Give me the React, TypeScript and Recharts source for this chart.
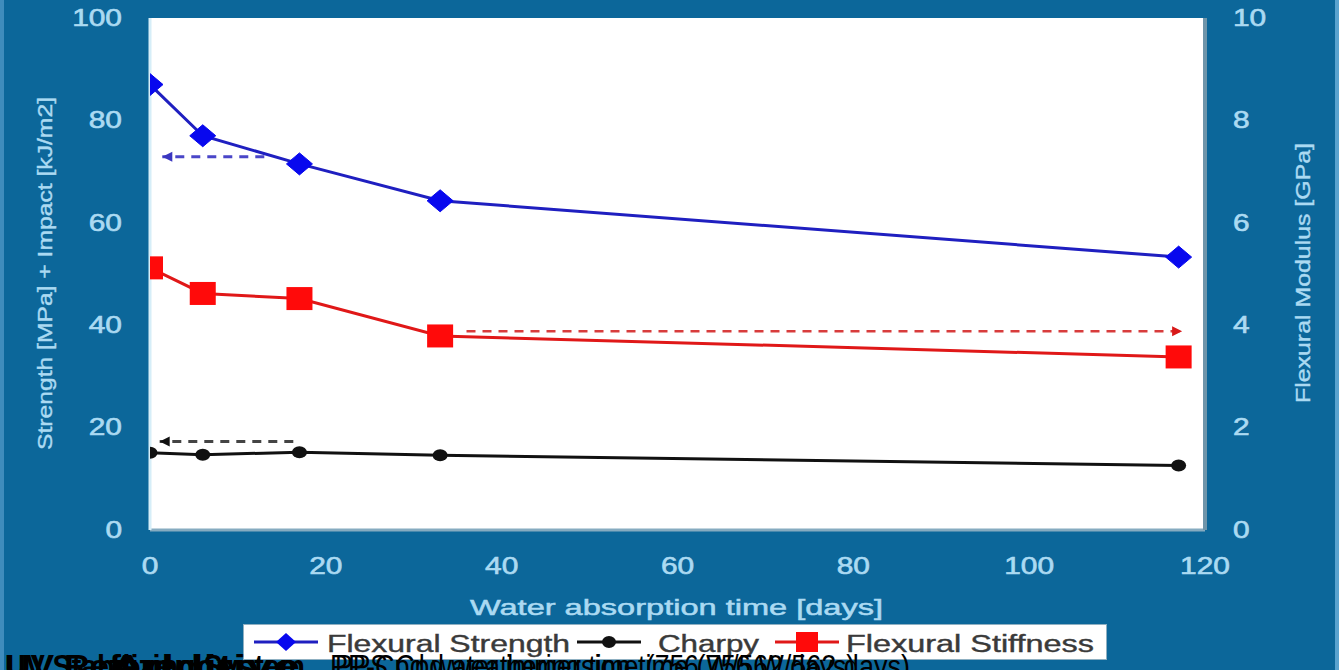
import React from "react";
import { LineChart, Line, XAxis, YAxis, CartesianGrid, Label } from "recharts";

// values
const days = [0, 6, 17, 33, 117];
const flexuralStrength = [87, 77, 71.5, 64.3, 53.3];
const charpy = [15.1, 14.7, 15.2, 14.6, 12.6];
const flexuralStiffness = [5.12, 4.62, 4.52, 3.79, 3.38];

// dashed reference arrows (tail -> head)
const strengthArrowDays = [13, 1.4];
const strengthArrowValue = [72.9, 72.9];
const charpyArrowDays = [16.3, 1.1];
const charpyArrowValue = [17.3, 17.3];
const stiffnessArrowDays = [36, 117.4];
const stiffnessArrowValue = [3.88, 3.88];

const xTicks = [0, 20, 40, 60, 80, 100, 120];
const leftTicks = [0, 20, 40, 60, 80, 100];
const rightTicks = [0, 2, 4, 6, 8, 10];

const BG = "#0c679a";
const TICK = "#abdaf2";
const FONT = "'Liberation Sans', Arial, sans-serif";

const BLUE_LINE = "#1f1fc0";
const BLUE_MARK = "#0808ee";
const RED_LINE = "#e01818";
const RED_MARK = "#ff0a0a";
const BLACK = "#111111";

const data = days.map((d, i) => ({
  day: d,
  strength: flexuralStrength[i],
  charpy: charpy[i],
  stiffness: flexuralStiffness[i],
}));

const toArrow = (xs: number[], ys: number[]) => xs.map((d, i) => ({ day: d, value: ys[i] }));

function Diamond(props: any) {
  const { cx, cy } = props;
  if (cx == null || cy == null) return null;
  return (
    <polygon
      points={`${cx - 13},${cy} ${cx},${cy - 11} ${cx + 13},${cy} ${cx},${cy + 11}`}
      fill={BLUE_MARK}
      stroke={BLUE_MARK}
    />
  );
}

function Square(props: any) {
  const { cx, cy } = props;
  if (cx == null || cy == null) return null;
  return <rect x={cx - 13} y={cy - 11.5} width={26} height={23} fill={RED_MARK} />;
}

function Dot(props: any) {
  const { cx, cy } = props;
  if (cx == null || cy == null) return null;
  return <ellipse cx={cx} cy={cy} rx={7.5} ry={6} fill={BLACK} />;
}

const makeArrowHead = (color: string, dir: number) => (props: any) => {
  const { cx, cy, index } = props;
  if (index !== 1 || cx == null) return <g key={`a${index}`} />;
  return (
    <polygon
      key={`a${index}`}
      points={`${cx},${cy} ${cx - dir * 10},${cy - 5} ${cx - dir * 10},${cy + 5}`}
      fill={color}
    />
  );
};

const tickText = {
  fill: TICK,
  fontSize: 23,
  fontFamily: FONT,
  stroke: TICK,
  strokeWidth: 0.6,
};

const LeftTick = ({ x, y, payload }: any) => (
  <text transform={`translate(${x - 20},${y}) scale(1.3,1)`} textAnchor="end" dominantBaseline="central" {...tickText}>
    {payload.value}
  </text>
);

const RightTick = ({ x, y, payload }: any) => (
  <text transform={`translate(${x + 20},${y}) scale(1.3,1)`} textAnchor="start" dominantBaseline="central" {...tickText}>
    {payload.value}
  </text>
);

const BottomTick = ({ x, y, payload }: any) => (
  <text transform={`translate(${x},${y + 28}) scale(1.3,1)`} textAnchor="middle" dominantBaseline="central" {...tickText}>
    {payload.value}
  </text>
);

function LegendIcon({ color, mark }: { color: string; mark: "diamond" | "dot" | "square" }) {
  return (
    <svg width={64} height={24} style={{ display: "block" }}>
      <line x1={0} y1={12} x2={64} y2={12} stroke={color} strokeWidth={3} />
      {mark === "diamond" && <polygon points="22,12 32,3 42,12 32,21" fill={BLUE_MARK} />}
      {mark === "dot" && <ellipse cx={32} cy={12} rx={7} ry={6} fill={BLACK} />}
      {mark === "square" && <rect x={21} y={2} width={22} height={20} fill={RED_MARK} />}
    </svg>
  );
}

export default function App() {
  return (
    <div
      style={{
        position: "absolute",
        left: 0,
        top: 0,
        width: 1339,
        height: 670,
        overflow: "hidden",
        background: BG,
        fontFamily: FONT,
      }}
    >
      <div style={{ position: "absolute", left: 0, top: 0, width: 4, height: 670, background: "#3f8cbc" }} />
      <div style={{ position: "absolute", right: 0, top: 0, width: 4, height: 670, background: "#5aa3cf" }} />
      <LineChart width={1339} height={670} data={data} margin={{ top: 18, right: 34, left: 40, bottom: 100 }}>
        <CartesianGrid fill="#ffffff" horizontal={false} vertical={false} />
        <XAxis
          dataKey="day"
          type="number"
          domain={[0, 120]}
          ticks={xTicks}
          allowDataOverflow
          height={40}
          tick={<BottomTick />}
          tickLine={false}
          axisLine={{ stroke: "#86abc0", strokeWidth: 3 }}
        >
          <Label
            content={() => (
              <text
                x={470}
                y={607}
                textLength={413}
                lengthAdjust="spacingAndGlyphs"
                dominantBaseline="central"
                fill={TICK}
                stroke={TICK}
                strokeWidth={0.5}
                fontSize={22}
                fontFamily={FONT}
              >
                Water absorption time [days]
              </text>
            )}
          />
        </XAxis>
        <YAxis
          yAxisId="left"
          domain={[0, 100]}
          ticks={leftTicks}
          width={110}
          tick={<LeftTick />}
          tickLine={false}
          axisLine={{ stroke: "#d6eef8", strokeWidth: 3 }}
        >
          <Label
            content={() => (
              <text
                transform="translate(44,450) rotate(-90)"
                x={0}
                y={0}
                textLength={353}
                lengthAdjust="spacingAndGlyphs"
                dominantBaseline="central"
                fill={TICK}
                stroke={TICK}
                strokeWidth={0.4}
                fontSize={21}
                fontFamily={FONT}
              >
                Strength [MPa] + Impact [kJ/m2]
              </text>
            )}
          />
        </YAxis>
        <YAxis
          yAxisId="right"
          orientation="right"
          domain={[0, 10]}
          ticks={rightTicks}
          width={100}
          tick={<RightTick />}
          tickLine={false}
          axisLine={{ stroke: "#6f95aa", strokeWidth: 4 }}
        >
          <Label
            content={() => (
              <text
                transform="translate(1302,403) rotate(-90)"
                x={0}
                y={0}
                textLength={260}
                lengthAdjust="spacingAndGlyphs"
                dominantBaseline="central"
                fill={TICK}
                stroke={TICK}
                strokeWidth={0.4}
                fontSize={21}
                fontFamily={FONT}
              >
                Flexural Modulus [GPa]
              </text>
            )}
          />
        </YAxis>

        <Line
          yAxisId="left"
          data={toArrow(strengthArrowDays, strengthArrowValue)}
          dataKey="value"
          stroke="#4a46c8"
          strokeWidth={3}
          strokeDasharray="9 7"
          dot={makeArrowHead("#3a36c0", -1)}
          activeDot={false}
          isAnimationActive={false}
        />
        <Line
          yAxisId="left"
          data={toArrow(charpyArrowDays, charpyArrowValue)}
          dataKey="value"
          stroke="#444444"
          strokeWidth={3}
          strokeDasharray="9 7"
          dot={makeArrowHead("#111111", -1)}
          activeDot={false}
          isAnimationActive={false}
        />
        <Line
          yAxisId="right"
          data={toArrow(stiffnessArrowDays, stiffnessArrowValue)}
          dataKey="value"
          stroke="#d83c3c"
          strokeWidth={2.5}
          strokeDasharray="9 7"
          dot={makeArrowHead("#d81818", 1)}
          activeDot={false}
          isAnimationActive={false}
        />

        <Line
          yAxisId="left"
          dataKey="strength"
          type="linear"
          stroke={BLUE_LINE}
          strokeWidth={3}
          dot={<Diamond />}
          activeDot={false}
          isAnimationActive={false}
        />
        <Line
          yAxisId="left"
          dataKey="charpy"
          type="linear"
          stroke={BLACK}
          strokeWidth={3}
          dot={<Dot />}
          activeDot={false}
          isAnimationActive={false}
        />
        <Line
          yAxisId="right"
          dataKey="stiffness"
          type="linear"
          stroke={RED_LINE}
          strokeWidth={3}
          dot={<Square />}
          activeDot={false}
          isAnimationActive={false}
        />
      </LineChart>

      {/* legend */}
      <div
        style={{
          position: "absolute",
          left: 243,
          top: 624,
          width: 864,
          height: 36,
          background: "#ffffff",
          border: "1px solid #8fb0c2",
          boxSizing: "border-box",
        }}
      >
        <div style={{ position: "absolute", left: 10, top: 5 }}>
          <LegendIcon color={BLUE_LINE} mark="diamond" />
        </div>
        <svg style={{ position: "absolute", left: 0, top: 0 }} width={864} height={36}>
          <text x={83} y={19} textLength={243} lengthAdjust="spacingAndGlyphs" dominantBaseline="central" fill="#3a3a3a" stroke="#3a3a3a" strokeWidth={0.4} fontSize={23} fontFamily={FONT}>
            Flexural Strength
          </text>
          <text x={414} y={19} textLength={101} lengthAdjust="spacingAndGlyphs" dominantBaseline="central" fill="#3a3a3a" stroke="#3a3a3a" strokeWidth={0.4} fontSize={23} fontFamily={FONT}>
            Charpy
          </text>
          <text x={602} y={19} textLength={248} lengthAdjust="spacingAndGlyphs" dominantBaseline="central" fill="#3a3a3a" stroke="#3a3a3a" strokeWidth={0.4} fontSize={23} fontFamily={FONT}>
            Flexural Stiffness
          </text>
        </svg>
        <div style={{ position: "absolute", left: 333, top: 5 }}>
          <LegendIcon color={BLACK} mark="dot" />
        </div>
        <div style={{ position: "absolute", left: 531, top: 5 }}>
          <LegendIcon color={RED_LINE} mark="square" />
        </div>
      </div>

      {/* overlapping caption text cut off at the bottom */}
      <svg style={{ position: "absolute", left: 0, top: 640 }} width={1339} height={30}>
        <text x={5} y={37} textLength={300} lengthAdjust="spacingAndGlyphs" fontWeight="bold" fontSize={31} fill="#000" fontFamily={FONT}>
          UV Stabilizing System
        </text>
        <text x={5} y={37} textLength={230} lengthAdjust="spacingAndGlyphs" fontWeight="bold" fontSize={31} fill="#000" fontFamily={FONT}>
          UV Reference
        </text>
        <text x={110} y={37} textLength={190} lengthAdjust="spacingAndGlyphs" fontWeight="bold" fontSize={31} fill="#000" fontFamily={FONT}>
          Additive
        </text>
        <text x={330} y={37} textLength={580} lengthAdjust="spacingAndGlyphs" fontSize={31} fill="#000" fontFamily={FONT}>
          PP-Cpd water immersion time (756 W/562 days)
        </text>
        <text x={335} y={37} textLength={520} lengthAdjust="spacingAndGlyphs" fontSize={31} fill="#000" fontFamily={FONT}>
          PPS Cpd weathering time (756 W/562 days)
        </text>
      </svg>
    </div>
  );
}
